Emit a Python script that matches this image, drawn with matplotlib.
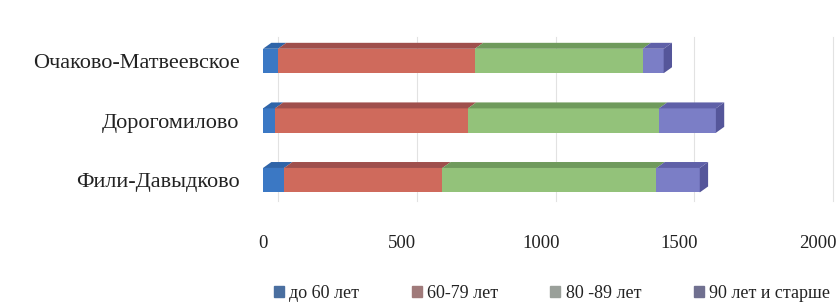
import matplotlib
matplotlib.use('Agg')
import matplotlib.pyplot as plt
from matplotlib.patches import Patch

# data
districts = ['Фили-Давыдково', 'Дорогомилово', 'Очаково-Матвеевское']
groups = ['до 60 лет', '60-79 лет', '80 -89 лет', '90 лет и старше']
under60 = [76, 43, 54]
age60_79 = [570, 695, 709]
age80_89 = [771, 688, 604]
age90plus = [156, 205, 76]
xticks = [0, 500, 1000, 1500, 2000]

front_colors = ['#3b78c4', '#cf6a5c', '#93c27a', '#7b7ec6']
top_colors = ['#2f64a8', '#9f4f4c', '#6f9a5c', '#5f60a8']
legend_colors = ['#4a6fa0', '#a07a7a', '#9aa09a', '#707090']

plt.rcParams['font.family'] = ['Liberation Serif', 'DejaVu Serif']

fig = plt.figure(figsize=(8.4, 3.06), dpi=100)
ax = fig.add_axes([263 / 840, 96 / 306, 572 / 840, 180 / 306])
ax.set_xlim(0, 2060)
ax.set_ylim(-0.5, 2.52)

h = 0.41          # front face height
dx, dy = 30, 0.1  # depth offset of the 3D look

# back-wall gridlines
for t in xticks:
    ax.plot([t + 54, t + 54], [-0.35, 2.4], color='#e2e2e2', lw=0.8, zorder=0,
            clip_on=False)

series = [under60, age60_79, age80_89, age90plus]
y = list(range(len(districts)))
lefts = [0] * len(districts)
for s, vals in enumerate(series):
    ax.barh(y, vals, height=h, left=lefts, color=front_colors[s], zorder=2)
    for i, v in enumerate(vals):
        l = lefts[i]
        top = y[i] + h / 2
        ax.fill([l, l + dx, l + v + dx, l + v], [top, top + dy, top + dy, top],
                color=top_colors[s], zorder=2, lw=0)
    lefts = [l + v for l, v in zip(lefts, vals)]

# right side face of each bar
for i, end in enumerate(lefts):
    ax.fill([end, end + dx, end + dx, end],
            [y[i] - h / 2, y[i] - h / 2 + dy, y[i] + h / 2 + dy, y[i] + h / 2],
            color='#55569a', zorder=2, lw=0)

ax.set_yticks(y)
ax.set_yticklabels(districts, fontsize=16, color='#222222')
ax.set_xticks(xticks)
ax.set_xticklabels([str(t) for t in xticks], fontsize=13.5, color='#222222')
ax.tick_params(length=0)
ax.tick_params(axis='x', pad=18)
ax.tick_params(axis='y', pad=17)
for sp in ax.spines.values():
    sp.set_visible(False)

handles = [Patch(color=c) for c in legend_colors]
fig.legend(handles, groups, loc='center', bbox_to_anchor=(552 / 840, 13 / 306),
           ncol=4, frameon=False, fontsize=13, handlelength=0.55,
           handleheight=0.55, handletextpad=0.3, columnspacing=2.9,
           labelcolor='#222222')

fig.savefig('out.png', dpi=100)
